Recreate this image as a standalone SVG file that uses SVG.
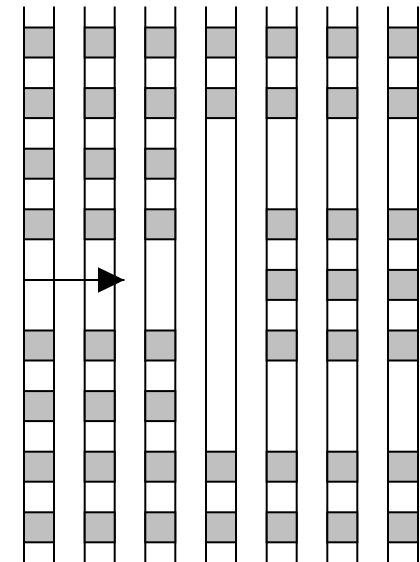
<svg xmlns="http://www.w3.org/2000/svg" width="420" height="562" viewBox="0 0 420 562">
<style>
.rail{stroke:#000;stroke-width:2;fill:none}
.box{fill:#c0c0c0;stroke:#000;stroke-width:2}
.conn{stroke:#000;stroke-width:2;fill:none}
</style>
<defs>
<marker id="ah" markerWidth="27" markerHeight="26" refX="27" refY="13" orient="auto" markerUnits="userSpaceOnUse">
<polygon points="0,0 27,13 0,26" fill="#000"/>
</marker>
</defs>
<rect width="420" height="562" fill="#fff"/>
<g id="col1">
<line class="rail" x1="24" y1="6.5" x2="24" y2="562"/><line class="rail" x1="54" y1="6.5" x2="54" y2="562"/>
<rect class="box" x="24" y="27.5" width="30" height="30"/>
<rect class="box" x="24" y="88.1" width="30" height="30"/>
<rect class="box" x="24" y="148.7" width="30" height="30"/>
<rect class="box" x="24" y="209.3" width="30" height="30"/>
<rect class="box" x="24" y="330.5" width="30" height="30"/>
<rect class="box" x="24" y="391.1" width="30" height="30"/>
<rect class="box" x="24" y="451.7" width="30" height="30"/>
<rect class="box" x="24" y="512.3" width="30" height="30"/>
</g>
<g id="col2">
<line class="rail" x1="84.7" y1="6.5" x2="84.7" y2="562"/><line class="rail" x1="114.7" y1="6.5" x2="114.7" y2="562"/>
<rect class="box" x="84.7" y="27.5" width="30" height="30"/>
<rect class="box" x="84.7" y="88.1" width="30" height="30"/>
<rect class="box" x="84.7" y="148.7" width="30" height="30"/>
<rect class="box" x="84.7" y="209.3" width="30" height="30"/>
<rect class="box" x="84.7" y="330.5" width="30" height="30"/>
<rect class="box" x="84.7" y="391.1" width="30" height="30"/>
<rect class="box" x="84.7" y="451.7" width="30" height="30"/>
<rect class="box" x="84.7" y="512.3" width="30" height="30"/>
</g>
<g id="col3">
<line class="rail" x1="145.3" y1="6.5" x2="145.3" y2="562"/><line class="rail" x1="175.3" y1="6.5" x2="175.3" y2="562"/>
<rect class="box" x="145.3" y="27.5" width="30" height="30"/>
<rect class="box" x="145.3" y="88.1" width="30" height="30"/>
<rect class="box" x="145.3" y="148.7" width="30" height="30"/>
<rect class="box" x="145.3" y="209.3" width="30" height="30"/>
<rect class="box" x="145.3" y="330.5" width="30" height="30"/>
<rect class="box" x="145.3" y="391.1" width="30" height="30"/>
<rect class="box" x="145.3" y="451.7" width="30" height="30"/>
<rect class="box" x="145.3" y="512.3" width="30" height="30"/>
</g>
<g id="col4">
<line class="rail" x1="206" y1="6.5" x2="206" y2="562"/><line class="rail" x1="236" y1="6.5" x2="236" y2="562"/>
<rect class="box" x="206" y="27.5" width="30" height="30"/>
<rect class="box" x="206" y="88.1" width="30" height="30"/>
<rect class="box" x="206" y="451.7" width="30" height="30"/>
<rect class="box" x="206" y="512.3" width="30" height="30"/>
</g>
<g id="col5">
<line class="rail" x1="266.7" y1="6.5" x2="266.7" y2="562"/><line class="rail" x1="296.7" y1="6.5" x2="296.7" y2="562"/>
<rect class="box" x="266.7" y="27.5" width="30" height="30"/>
<rect class="box" x="266.7" y="88.1" width="30" height="30"/>
<rect class="box" x="266.7" y="209.3" width="30" height="30"/>
<rect class="box" x="266.7" y="269.9" width="30" height="30"/>
<rect class="box" x="266.7" y="330.5" width="30" height="30"/>
<rect class="box" x="266.7" y="451.7" width="30" height="30"/>
<rect class="box" x="266.7" y="512.3" width="30" height="30"/>
</g>
<g id="col6">
<line class="rail" x1="327.3" y1="6.5" x2="327.3" y2="562"/><line class="rail" x1="357.3" y1="6.5" x2="357.3" y2="562"/>
<rect class="box" x="327.3" y="27.5" width="30" height="30"/>
<rect class="box" x="327.3" y="88.1" width="30" height="30"/>
<rect class="box" x="327.3" y="209.3" width="30" height="30"/>
<rect class="box" x="327.3" y="269.9" width="30" height="30"/>
<rect class="box" x="327.3" y="330.5" width="30" height="30"/>
<rect class="box" x="327.3" y="451.7" width="30" height="30"/>
<rect class="box" x="327.3" y="512.3" width="30" height="30"/>
</g>
<g id="col7">
<line class="rail" x1="388" y1="6.5" x2="388" y2="562"/><line class="rail" x1="418" y1="6.5" x2="418" y2="562"/>
<rect class="box" x="388" y="27.5" width="30" height="30"/>
<rect class="box" x="388" y="88.1" width="30" height="30"/>
<rect class="box" x="388" y="209.3" width="30" height="30"/>
<rect class="box" x="388" y="269.9" width="30" height="30"/>
<rect class="box" x="388" y="330.5" width="30" height="30"/>
<rect class="box" x="388" y="451.7" width="30" height="30"/>
<rect class="box" x="388" y="512.3" width="30" height="30"/>
</g>
<g id="connectors">
<line class="conn" x1="24" y1="280" x2="124.5" y2="280" marker-end="url(#ah)"/>
</g>
</svg>
